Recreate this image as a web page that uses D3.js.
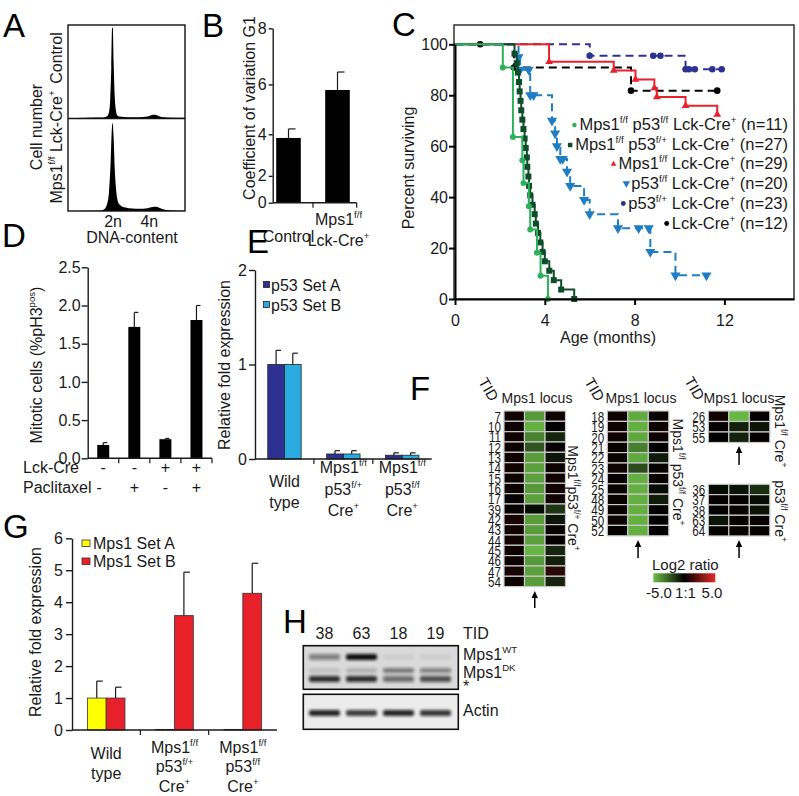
<!DOCTYPE html>
<html><head><meta charset="utf-8">
<script src="https://cdn.jsdelivr.net/npm/d3@7/dist/d3.min.js"></script>
<style>
html,body{margin:0;padding:0;background:#fff;}
svg{display:block;font-family:"Liberation Sans",Arial,Helvetica,sans-serif;}
</style></head><body>
<svg id="fig" width="799" height="796" viewBox="0 0 799 796"></svg>
<script>
// ===================== DATA =====================
// Panel A: DNA-content histograms [channel, relative cell number]
const dnaTickLabels = ["2n", "4n"];
const dnaTickChannels = [38.5, 69.5];
const histControl = [[0,0],[15,0.3],[30,0.5],[33,1.5],[35,6],[36,18],[37,55],[37.7,97],[38.3,97],[39,60],[40,22],[41,8],[42,3],[44,1.5],[48,1],[56,0.8],[64,1],[68,1.5],[71,3],[74,3.5],[77,2.5],[80,1],[85,0.5],[100,0.3]];
const histMps1 = [[0,0],[15,0.3],[28,0.6],[31,2],[33,6],[35,20],[36.5,55],[37.5,90],[38.2,96],[39,80],[40,45],[41,25],[42,14],[43,9],[45,6],[48,4],[52,3],[58,2.5],[64,2.5],[68,3],[71,4],[74,4.5],[77,4],[80,2.5],[84,1],[90,0.5],[100,0.3]];

// Panel B: coefficient of variation G1 (axis in the figure is non-uniform)
const cvCategories = ["Control", "Mps1^f/f^|Lck-Cre^+^"];
const cvMeans = [3.84, 5.79];
const cvSEM = [0.39, 0.67];
const cvTicks = [0, 2, 4, 6, 8];

// Panel C: Kaplan-Meier survival (months, percent)
const kmLabels = ["Mps1^f/f^ p53^f/f^ Lck-Cre^+^ (n=11)", "Mps1^f/f^ p53^f/+^ Lck-Cre^+^ (n=27)", "Mps1^f/f^ Lck-Cre^+^ (n=29)", "p53^f/f^ Lck-Cre^+^ (n=20)", "p53^f/+^ Lck-Cre^+^ (n=23)", "Lck-Cre^+^ (n=12)"];
const kmGreenT = [0,2.13,2.58,3.0,3.05,3.29,3.35,3.65,3.81,4.14];
const kmGreenS = [100,90.9,63.6,54.5,45.5,36.4,27.3,18.2,9.1,0];
const kmGreenCens = [];
const kmDarkT = [0,2.65,2.75,2.8,2.85,2.88,2.92,2.95,3.0,3.05,3.1,3.15,3.2,3.22,3.27,3.3,3.35,3.45,3.55,3.6,3.7,3.8,3.9,4.0,4.2,4.4,4.73,5.31];
const kmDarkS = [100,96.3,92.6,88.9,85.2,81.5,77.8,74.1,70.4,66.7,63.0,59.3,55.6,51.9,48.1,44.4,40.7,37.0,33.3,29.6,25.9,22.2,18.5,14.8,11.1,7.4,3.7,0];
const kmDarkCens = [];
const kmRedT = [0,4.19,7.07,8.04,8.88,8.99,10.27,11.68];
const kmRedS = [100,93.1,89.7,86.2,82.8,79.3,75.9,72.4];
const kmRedCens = [];
const kmBlueT = [0,2.83,2.9,3.35,4.32,4.46,4.54,4.69,4.99,5.13,5.75,6.0,7.26,8.7,9.82];
const kmBlueS = [100,95,90,80,70,65,60,55,50,44.4,38.9,33.3,27.8,18.5,9.3];
const kmBlueCens = [[3.28,90],[3.5,80],[4.8,55],[8.18,27.8],[8.63,27.8],[11.2,9.3]];
const kmNavyT = [0,6.0,10.27];
const kmNavyS = [100,95.5,90.2];
const kmNavyCens = [[8.83,95.5],[9.15,95.5],[10.42,90.2],[10.68,90.2],[11.46,90.2],[11.88,90.2]];
const kmBlackT = [0,2.63,7.84];
const kmBlackS = [100,90.9,81.8];
const kmBlackCens = [[1.12,100],[11.68,81.8]];
const kmEnds = [4.14, 5.31, 11.68, 11.2, 11.88, 11.68];
const kmYTicks = [0,20,40,60,80,100];
const kmXTicks = [0,4,8,12];

// Panel D: mitotic cells
const lckCre = ["-","-","+","+"];
const paclitaxel = ["-","+","-","+"];
const mitoticMeans = [0.175, 1.72, 0.25, 1.81];
const mitoticSEM = [0.03, 0.19, 0.01, 0.19];
const mitoticTicks = [0, 0.5, 1.0, 1.5, 2.0, 2.5];

// Panel E: p53 expression
const genotypes = ["Wild|type", "Mps1^f/f^|p53^f/+^|Cre^+^", "Mps1^f/f^|p53^f/f^|Cre^+^"];
const p53Series = ["p53 Set A", "p53 Set B"];
const p53SetA = [1.0, 0.053, 0.04];
const p53SetAErr = [0.15, 0.035, 0.025];
const p53SetB = [1.0, 0.053, 0.04];
const p53SetBErr = [0.12, 0.035, 0.025];
const p53Ticks = [0, 1, 2];

// Panel F: aCGH heatmaps (log2 ratios; columns: proximal, Mps1 locus, distal)
const hm1Rows = ["7","10","11","12","13","14","15","16","17","39","42","43","44","45","46","47","54"];
const hm1Left = [0.4,0.3,0.4,0.3,0.4,0.4,0.3,0.3,0.1,0.1,0.5,0.4,0.4,0.3,0.3,0.5,0.3];
const hm1Mid = [-4.0,-4.6,-3.4,-2.2,-4.1,-4.2,-4.2,-4.0,-4.2,-0.3,-4.1,-4.1,-4.2,-4.7,-4.0,-4.2,-4.1];
const hm1Right = [0.3,0.0,-1.0,0.2,-0.6,0.3,0.4,0.4,0.4,-1.4,-0.6,0.2,0.1,-1.0,-0.8,0.9,-1.0];
const hm2Rows = ["18","19","20","21","22","23","24","25","48","49","50","52"];
const hm2Left = [0.3,0.3,0.4,0.2,0.3,0.3,0.2,0.2,0.2,0.2,0.3,0.1];
const hm2Mid = [-4.5,-4.6,-4.4,-3.3,-4.4,-2.0,-4.6,-4.6,-4.6,-4.6,-4.6,-4.6];
const hm2Right = [0.2,0.3,0.3,0.0,-0.7,0.2,0.2,-0.3,-0.7,0.1,0.0,0.0];
const hm3Rows = ["26","53","55"];
const hm3Left = [0.4,0.1,0.0];
const hm3Mid = [-4.8,-0.8,-0.9];
const hm3Right = [0.1,-0.5,0.1];
const hm4Rows = ["36","37","38","63","64"];
const hm4Left = [-0.3,0.1,0.1,-0.5,0.1];
const hm4Mid = [-0.5,0.1,0.2,0.1,0.2];
const hm4Right = [-1.2,-0.3,-0.5,0.2,0.1];
const heatLegendTicks = ["-5.0", "1:1", "5.0"];

// Panel G: Mps1 expression
const mps1Series = ["Mps1 Set A", "Mps1 Set B"];
const mps1SetA = [1.0, 0.02, 0.02];
const mps1SetAErr = [0.53, 0, 0];
const mps1SetB = [1.0, 3.58, 4.28];
const mps1SetBErr = [0.34, 1.36, 0.94];
const mps1Ticks = [0, 1, 2, 3, 4, 5, 6];

// Panel H: western blot (band intensity 0..1 per lane)
const blotLanes = ["38", "63", "18", "19"];
const bandWT = [0.45, 1.0, 0.06, 0.06];
const bandDK = [0.12, 0.18, 0.5, 0.45];
const bandStar = [0.85, 0.85, 0.55, 0.7];
const bandActin = [0.9, 0.8, 0.9, 0.82];

// ===================== HELPERS =====================
const svg = d3.select('#fig');
const INK = '#1a1a1a';
const FS = 16;

function rich(t, str, size) {
  const parts = str.split('^');
  let cur = 0;
  parts.forEach((p, i) => {
    if (p === '') return;
    const sup = i % 2 === 1;
    const target = sup ? -size * 0.42 : 0;
    const ts = t.append('tspan').text(p).attr('dy', target - cur);
    if (sup) ts.attr('font-size', size * 0.6);
    cur = target;
  });
  return t;
}
function label(g, x, y, str, o = {}) {
  const size = o.size || FS;
  const t = g.append('text').attr('x', x).attr('y', y)
    .attr('font-size', size).attr('fill', o.fill || INK)
    .attr('text-anchor', o.anchor || 'start');
  if (o.rotate) t.attr('transform', `rotate(${o.rotate},${x},${y})`);
  rich(t, str, size);
  return t;
}
function multiline(g, x, ys, str, o = {}) {
  str.split('|').forEach((s, i) => label(g, x, ys[i], s, Object.assign({anchor: 'middle'}, o)));
}
function yAxis(g, scale, x, ticks, fmt, pad, size) {
  const a = g.append('g').attr('transform', `translate(${x},0)`)
    .call(d3.axisLeft(scale).tickValues(ticks).tickSize(size || 6).tickSizeOuter(0).tickPadding(pad).tickFormat(fmt));
  a.attr('font-family', null).attr('font-size', FS);
  a.selectAll('text').attr('fill', INK);
  a.selectAll('line,path').attr('stroke', INK).attr('stroke-width', 1.4);
  return a;
}
function xBase(g, x0, x1, y, tickXs) {
  g.append('line').attr('x1', x0).attr('x2', x1).attr('y1', y).attr('y2', y).attr('stroke', INK).attr('stroke-width', 1.4);
  tickXs.forEach(tx => g.append('line').attr('x1', tx).attr('x2', tx).attr('y1', y).attr('y2', y + 5).attr('stroke', INK).attr('stroke-width', 1.2));
}
function errBar(g, x, yTop, yErr, cap) {
  g.append('line').attr('x1', x).attr('x2', x).attr('y1', yTop).attr('y2', yErr).attr('stroke', INK).attr('stroke-width', 1.2);
  g.append('line').attr('x1', x).attr('x2', x + cap).attr('y1', yErr).attr('y2', yErr).attr('stroke', INK).attr('stroke-width', 1.2);
}
function letter(x, y, s) { svg.append('text').attr('x', x).attr('y', y).attr('font-size', 33).attr('fill', '#000').text(s); }

// ===================== PANEL A =====================
(function () {
  const g = svg.append('g');
  const x = d3.scaleLinear().domain([0, 100]).range([68, 185]);
  const yTop = d3.scaleLinear().domain([0, 100]).range([118, 25]);
  const yBot = d3.scaleLinear().domain([0, 100]).range([211, 119]);
  const area = ys => d3.area().x(d => x(d[0])).y0(ys(0)).y1(d => ys(d[1])).curve(d3.curveMonotoneX);
  g.append('path').datum(histControl).attr('d', area(yTop)).attr('fill', '#000');
  g.append('path').datum(histMps1).attr('d', area(yBot)).attr('fill', '#000');
  g.append('rect').attr('x', 68).attr('y', 25).attr('width', 117).attr('height', 186).attr('fill', 'none').attr('stroke', '#111').attr('stroke-width', 1.4);
  g.append('line').attr('x1', 68).attr('x2', 185).attr('y1', 118.5).attr('y2', 118.5).attr('stroke', '#111').attr('stroke-width', 1.4);
  dnaTickLabels.forEach((t, i) => label(g, x(dnaTickChannels[i]), 227, t, {anchor: 'middle'}));
  label(g, 132, 243, 'DNA-content', {anchor: 'middle'});
  label(g, 42, 127, 'Cell number', {anchor: 'middle', rotate: -90});
  label(g, 62, 58, 'Control', {anchor: 'middle', rotate: -90});
  label(g, 62, 147, 'Mps1^f/f^ Lck-Cre^+^', {anchor: 'middle', rotate: -90});
  letter(3, 37, 'A');
})();

// ===================== PANEL B =====================
(function () {
  const g = svg.append('g');
  const y = d3.scalePow().exponent(1.35).domain([0, 8]).range([202.7, 28.3]);
  const x = d3.scaleBand().domain(cvCategories).range([264, 362]);
  cvCategories.forEach((c, i) => {
    const cx = x(c) + x.bandwidth() / 2;
    g.append('rect').attr('x', cx - 12.3).attr('width', 24.6).attr('y', y(cvMeans[i])).attr('height', y(0) - y(cvMeans[i])).attr('fill', '#000');
    errBar(g, cx, y(cvMeans[i]), y(cvMeans[i] + cvSEM[i]), 7);
  });
  yAxis(g, y, 272.7, cvTicks, d3.format('d'), 2, 4);
  xBase(g, 272.7, 356.7, 202.7, [313, 356.7]);
  label(g, x(cvCategories[0]) + x.bandwidth() / 2, 242, 'Control', {anchor: 'middle'});
  multiline(g, x(cvCategories[1]) + x.bandwidth() / 2 + 1, [225, 246], cvCategories[1]);
  label(g, 255, 108, 'Coefficient of variation G1', {anchor: 'middle', rotate: -90});
  letter(202, 37, 'B');
})();

// ===================== PANEL C =====================
(function () {
  const g = svg.append('g');
  const x = d3.scaleLinear().domain([0, 15.1]).range([455, 794]);
  const y = d3.scaleLinear().domain([0, 100]).range([299, 44.3]);
  g.append('rect').attr('x', 454).attr('y', 25).attr('width', 340).attr('height', 274).attr('fill', 'none').attr('stroke', '#333').attr('stroke-width', 1.5);
  const series = [
    {T: kmNavyT, S: kmNavyS, C: kmNavyCens, end: kmEnds[4], color: '#2e3192', dash: '8,5', sym: d3.symbolCircle, size: 34, rot: 0, li: 4},
    {T: kmBlackT, S: kmBlackS, C: kmBlackCens, end: kmEnds[5], color: '#000000', dash: '8,5', sym: d3.symbolCircle, size: 34, rot: 0, li: 5},
    {T: kmRedT, S: kmRedS, C: kmRedCens, end: kmEnds[2], color: '#e8212b', dash: null, sym: d3.symbolTriangle, size: 26, rot: 0, li: 2},
    {T: kmBlueT, S: kmBlueS, C: kmBlueCens, end: kmEnds[3], color: '#1f7dc4', dash: '8,5', sym: d3.symbolTriangle, size: 44, rot: 180, li: 3},
    {T: kmDarkT, S: kmDarkS, C: kmDarkCens, end: kmEnds[1], color: '#0d4d2a', dash: null, sym: d3.symbolSquare, size: 36, rot: 0, li: 1},
    {T: kmGreenT, S: kmGreenS, C: kmGreenCens, end: kmEnds[0], color: '#2cb15a', dash: null, sym: d3.symbolCircle, size: 28, rot: 0, li: 0}
  ];
  const line = d3.line().x(d => x(d[0])).y(d => y(d[1])).curve(d3.curveStepAfter);
  series.forEach(s => {
    const pts = s.T.map((t, i) => [t, s.S[i]]);
    pts.push([s.end, s.S[s.S.length - 1]]);
    g.append('path').datum(pts).attr('d', line).attr('fill', 'none').attr('stroke', s.color).attr('stroke-width', 2).attr('stroke-dasharray', s.dash);
    const marks = s.T.slice(1).map((t, i) => [t, s.S[i + 1]]).concat(s.C);
    g.selectAll(null).data(marks).enter().append('path')
      .attr('d', d3.symbol().type(s.sym).size(s.size))
      .attr('transform', d => `translate(${x(d[0])},${y(d[1])}) rotate(${s.rot})`)
      .attr('fill', s.color);
  });
  const ya = yAxis(g, y, 455, kmYTicks, d3.format('d'), 1);
  ya.selectAll('line,path').attr('stroke-width', 2).attr('stroke', '#000');
  const xa = g.append('g').attr('transform', 'translate(0,299)')
    .call(d3.axisBottom(x).tickValues(kmXTicks).tickSize(6).tickSizeOuter(0).tickPadding(10));
  xa.attr('font-family', null).attr('font-size', FS);
  xa.selectAll('text').attr('fill', INK);
  xa.selectAll('line,path').attr('stroke', '#000').attr('stroke-width', 2);
  label(g, 608, 343, 'Age (months)', {anchor: 'middle'});
  label(g, 414, 168, 'Percent surviving', {anchor: 'middle', rotate: -90});
  // legend
  const legYs = [130, 150, 169, 188.5, 208.5, 228.5];
  const bySeries = {};
  series.forEach(s => bySeries[s.li] = s);
  kmLabels.forEach((lab, i) => {
    const t = label(g, 788, legYs[i], lab, {anchor: 'end', size: 16.5});
    const w = t.node().getComputedTextLength();
    const s = bySeries[i];
    g.append('path').attr('d', d3.symbol().type(s.sym).size(s.size * 0.55))
      .attr('transform', `translate(${788 - w - 5},${legYs[i] - 5}) rotate(${s.rot})`).attr('fill', s.color);
  });
  letter(392, 36, 'C');
})();

// ===================== PANEL D =====================
(function () {
  const g = svg.append('g');
  const y = d3.scaleLinear().domain([0, 2.5]).range([458.3, 267.3]);
  const x = d3.scaleBand().domain(d3.range(4)).range([87.7, 212]);
  mitoticMeans.forEach((v, i) => {
    const cx = x(i) + x.bandwidth() / 2;
    g.append('rect').attr('x', cx - 6).attr('width', 12).attr('y', y(v)).attr('height', y(0) - y(v)).attr('fill', '#000');
    errBar(g, cx, y(v), y(v + mitoticSEM[i]), 4);
  });
  yAxis(g, y, 87.7, mitoticTicks, d3.format('.1f'), 1);
  xBase(g, 87.7, 212, 458.3, [1, 2, 3, 4].map(k => 87.7 + k * x.step()));
  label(g, 23, 473, 'Lck-Cre');
  label(g, 23, 493, 'Paclitaxel');
  lckCre.forEach((s, i) => label(g, x(i) + x.bandwidth() / 2, 473, s, {anchor: 'middle'}));
  paclitaxel.forEach((s, i) => label(g, x(i) + x.bandwidth() / 2 + (i === 0 ? -4 : 0), 493, s, {anchor: 'middle'}));
  label(g, 42, 365, 'Mitotic cells (%pH3^pos^)', {anchor: 'middle', rotate: -90});
  letter(2, 247, 'D');
})();

// ===================== PANEL E =====================
(function () {
  const g = svg.append('g');
  const y = d3.scaleLinear().domain([0, 2]).range([459, 270]);
  const x = d3.scaleBand().domain(d3.range(3)).range([255, 431.7]);
  const inner = d3.scaleBand().domain([0, 1]).range([0, 33.4]);
  const colors = ['#2e3192', '#29abe2'];
  const vals = [p53SetA, p53SetB], errs = [p53SetAErr, p53SetBErr];
  d3.range(3).forEach(i => {
    const gx = x(i) + x.bandwidth() / 2 - 16.7;
    [0, 1].forEach(s => {
      const v = vals[s][i];
      g.append('rect').attr('x', gx + inner(s)).attr('width', inner.bandwidth()).attr('y', y(v)).attr('height', y(0) - y(v))
        .attr('fill', colors[s]).attr('stroke', '#222').attr('stroke-width', 0.8);
      errBar(g, gx + inner(s) + inner.bandwidth() / 2, y(v), y(v + errs[s][i]), 5);
    });
  });
  yAxis(g, y, 255, p53Ticks, d3.format('d'), 2);
  xBase(g, 255, 431.7, 459, [1, 2].map(k => 255 + k * x.step()));
  multiline(g, x(0) + x.bandwidth() / 2, [487, 508], genotypes[0]);
  multiline(g, x(1) + x.bandwidth() / 2, [473, 494.5, 516], genotypes[1]);
  multiline(g, x(2) + x.bandwidth() / 2, [473, 494.5, 516], genotypes[2]);
  p53Series.forEach((s, i) => {
    g.append('rect').attr('x', 263.5).attr('y', 281.5 + i * 20).attr('width', 6).attr('height', 6).attr('fill', colors[i]).attr('stroke', '#222').attr('stroke-width', 0.8);
    label(g, 271, 290.5 + i * 20, s);
  });
  label(g, 230, 365, 'Relative fold expression', {anchor: 'middle', rotate: -90});
  letter(247, 253, 'E');
})();

// ===================== PANEL F =====================
(function () {
  const g = svg.append('g');
  const heat = d3.scaleLinear().domain([-5, 0, 5]).range(['#6cbf47', '#000000', '#e42a2a']).clamp(true);
  function heatmap(x0, y0, rowH, rows, cols) {
    const xs = d3.scaleBand().domain([0, 1, 2]).range([x0, x0 + 61.5]);
    const ys = d3.scaleBand().domain(d3.range(rows.length)).range([y0, y0 + rowH * rows.length]);
    cols.forEach((vals, c) => vals.forEach((v, r) => {
      g.append('rect').attr('x', xs(c)).attr('y', ys(r)).attr('width', xs.bandwidth()).attr('height', ys.bandwidth())
        .attr('fill', heat(v)).attr('stroke', '#c8c8c8').attr('stroke-width', 1.2);
    }));
    rows.forEach((l, r) => g.append('text').attr('transform', `translate(${x0 - 3},${ys(r) + rowH + 0.3}) scale(0.75,1)`)
      .attr('text-anchor', 'end').attr('font-size', 15.5).attr('fill', INK).text(l));
    return xs(1) + xs.bandwidth() / 2;
  }
  function arrow(x, y1, y2) {
    g.append('line').attr('x1', x).attr('x2', x).attr('y1', y1 + 6).attr('y2', y2).attr('stroke', '#000').attr('stroke-width', 1.5);
    g.append('path').attr('d', `M${x - 3.2},${y1 + 7} L${x},${y1} L${x + 3.2},${y1 + 7} Z`).attr('fill', '#000');
  }
  function tid(x, y) {
    g.append('text').attr('transform', `translate(${x},${y}) rotate(60)`).attr('text-anchor', 'middle').attr('font-size', 15).attr('fill', INK).text('TID');
  }
  const a1 = heatmap(504, 411, 10.33, hm1Rows, [hm1Left, hm1Mid, hm1Right]);
  const a2 = heatmap(607.3, 411, 10.4, hm2Rows, [hm2Left, hm2Mid, hm2Right]);
  const a3 = heatmap(708.3, 411, 10.5, hm3Rows, [hm3Left, hm3Mid, hm3Right]);
  const a4 = heatmap(708.3, 484.3, 10.33, hm4Rows, [hm4Left, hm4Mid, hm4Right]);
  label(g, 537, 403, 'Mps1 locus', {anchor: 'middle', size: 14});
  label(g, 641, 403, 'Mps1 locus', {anchor: 'middle', size: 14});
  label(g, 739, 403, 'Mps1 locus', {anchor: 'middle', size: 14});
  tid(484, 392); tid(590, 392); tid(690, 391);
  arrow(a1, 591, 608); arrow(a2, 540, 558); arrow(a3, 446, 465); arrow(a4, 540, 558);
  label(g, 568, 498, 'Mps1^f/f^p53^f/+^ Cre^+^', {anchor: 'middle', rotate: 90, size: 14});
  label(g, 673, 472, 'Mps1^f/f^ p53^f/f^ Cre^+^', {anchor: 'middle', rotate: 90, size: 14});
  label(g, 775, 431, 'Mps1^f/f^ Cre^+^', {anchor: 'middle', rotate: 90, size: 14});
  label(g, 775, 511, 'p53^f/f^ Cre^+^', {anchor: 'middle', rotate: 90, size: 14});
  // legend
  const defs = svg.append('defs');
  const lg = defs.append('linearGradient').attr('id', 'heatgrad');
  [-5, -2.5, 0, 2.5, 5].forEach(v => lg.append('stop').attr('offset', ((v + 5) / 10 * 100) + '%').attr('stop-color', heat(v)));
  label(g, 652, 570, 'Log2 ratio', {size: 15});
  g.append('rect').attr('x', 653.3).attr('y', 573.3).attr('width', 62).attr('height', 9).attr('fill', 'url(#heatgrad)');
  const lx = d3.scaleLinear().domain([0, 2]).range([659, 712]);
  heatLegendTicks.forEach((t, i) => label(g, lx(i), 597.5, t, {anchor: 'middle', size: 15}));
  letter(410, 400, 'F');
})();

// ===================== PANEL G =====================
(function () {
  const g = svg.append('g');
  const y = d3.scaleLinear().domain([0, 6]).range([730, 538.3]);
  const x = d3.scaleBand().domain(d3.range(3)).range([72, 277]);
  const inner = d3.scaleBand().domain([0, 1]).range([0, 37.6]);
  const colors = ['#ffff00', '#e8202a'];
  const vals = [mps1SetA, mps1SetB], errs = [mps1SetAErr, mps1SetBErr];
  d3.range(3).forEach(i => {
    const gx = x(i) + x.bandwidth() / 2 - 18.8;
    [0, 1].forEach(s => {
      const v = vals[s][i];
      g.append('rect').attr('x', gx + inner(s)).attr('width', inner.bandwidth()).attr('y', y(v)).attr('height', y(0) - y(v))
        .attr('fill', colors[s]).attr('stroke', '#333').attr('stroke-width', 0.8);
      if (errs[s][i] > 0) errBar(g, gx + inner(s) + inner.bandwidth() / 2, y(v), y(v + errs[s][i]), 6);
    });
  });
  yAxis(g, y, 72, mps1Ticks, d3.format('d'), 3);
  xBase(g, 72, 277, 730, [1, 2].map(k => 72 + k * x.step()));
  multiline(g, x(0) + x.bandwidth() / 2, [758.5, 778.5], genotypes[0]);
  multiline(g, x(1) + x.bandwidth() / 2, [752.5, 772, 792], genotypes[1]);
  multiline(g, x(2) + x.bandwidth() / 2, [752.5, 772, 792], genotypes[2]);
  mps1Series.forEach((s, i) => {
    g.append('rect').attr('x', 82).attr('y', 540 + i * 18).attr('width', 8).attr('height', 6.5).attr('fill', colors[i]).attr('stroke', '#333').attr('stroke-width', 0.8);
    label(g, 93, 548.5 + i * 18, s);
  });
  label(g, 41, 632, 'Relative fold expression', {anchor: 'middle', rotate: -90});
  letter(3, 538, 'G');
})();

// ===================== PANEL H =====================
(function () {
  const g = svg.append('g');
  const defs = svg.append('defs');
  defs.append('filter').attr('id', 'blur').attr('x', '-30%').attr('y', '-100%').attr('width', '160%').attr('height', '300%')
    .append('feGaussianBlur').attr('stdDeviation', 1.6);
  const x = d3.scaleBand().domain(blotLanes).range([306, 454]);
  g.append('rect').attr('x', 303.3).attr('y', 645.7).attr('width', 155).attr('height', 43.6).attr('fill', '#dadada');
  g.append('rect').attr('x', 303.3).attr('y', 694.3).attr('width', 155).attr('height', 35).attr('fill', '#ececec');
  const bands = g.append('g').attr('filter', 'url(#blur)');
  function drawBands(arr, yc, h) {
    blotLanes.forEach((l, i) => {
      bands.append('rect').attr('x', x(l) + 3).attr('width', x.bandwidth() - 6).attr('y', yc - h / 2).attr('height', h)
        .attr('rx', 2).attr('fill', '#111').attr('opacity', arr[i]);
    });
  }
  drawBands(bandWT, 657, 6);
  drawBands(bandDK, 670.5, 5);
  drawBands(bandStar, 679, 6);
  drawBands(bandActin, 713, 6);
  g.append('rect').attr('x', 303.3).attr('y', 645.7).attr('width', 155).attr('height', 43.6).attr('fill', 'none').attr('stroke', '#111').attr('stroke-width', 1.6);
  g.append('rect').attr('x', 303.3).attr('y', 694.3).attr('width', 155).attr('height', 35).attr('fill', 'none').attr('stroke', '#111').attr('stroke-width', 1.6);
  blotLanes.forEach(l => label(g, x(l) + x.bandwidth() / 2, 639, l, {anchor: 'middle'}));
  label(g, 463, 639, 'TID');
  label(g, 463, 660, 'Mps1^WT^');
  label(g, 463, 678, 'Mps1^DK^');
  label(g, 463, 692, '*');
  label(g, 463, 716, 'Actin');
  letter(283, 633, 'H');
})();
</script></body></html>
